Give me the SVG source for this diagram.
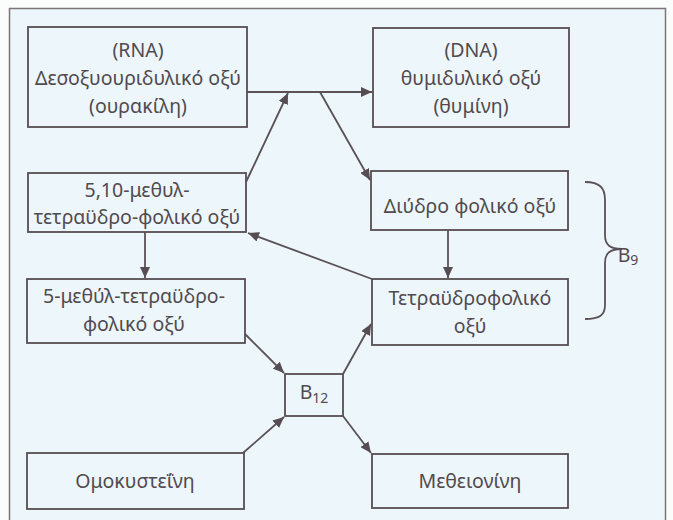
<svg xmlns="http://www.w3.org/2000/svg" width="673" height="520" viewBox="0 0 673 520">
<style>
.box{fill:none;stroke:#564d52;stroke-width:1.8}
.t{font-family:"Noto Sans","Open Sans",sans-serif;font-size:19.5px;fill:#514a4f;text-anchor:middle}
.c{fill:none;stroke:#5a5156;stroke-width:1.8}
</style>
<defs>
<marker id="ah" markerWidth="12" markerHeight="10" refX="11" refY="5" orient="auto" markerUnits="userSpaceOnUse">
<path d="M0,0 L11,5 L0,10 Z" fill="#564d52"/>
</marker>
</defs>
<rect x="0" y="0" width="673" height="520" fill="#fbfdfd"/>
<rect x="9.5" y="8.5" width="656" height="520" fill="#edf6fa" stroke="#7d7579" stroke-width="1.5"/>

<g id="rna"><rect class="box" x="28" y="27" width="219" height="100"/>
<text class="t" x="138" y="57">(RNA)</text><text class="t" x="138" y="85">Δεσοξυουριδυλικό οξύ</text><text class="t" x="138" y="113">(ουρακίλη)</text></g>
<g id="dna"><rect class="box" x="373" y="28" width="196" height="99"/>
<text class="t" x="471" y="57">(DNA)</text><text class="t" x="471" y="85">θυμιδυλικό οξύ</text><text class="t" x="471" y="113">(θυμίνη)</text></g>
<g id="methylene"><rect class="box" x="28" y="173" width="218" height="59"/>
<text class="t" x="137" y="197">5,10-μεθυλ-</text><text class="t" x="137" y="224">τετραϋδρο-φολικό οξύ</text></g>
<g id="dihydro"><rect class="box" x="371" y="171" width="197" height="59"/>
<text class="t" x="470" y="213">Διύδρο φολικό οξύ</text></g>
<g id="methyl"><rect class="box" x="27" y="279" width="218" height="64"/>
<text class="t" x="134" y="303">5-μεθύλ-τετραϋδρο-</text><text class="t" x="134" y="331">φολικό οξύ</text></g>
<g id="tetrahydro"><rect class="box" x="372" y="279" width="196" height="66"/>
<text class="t" x="470" y="305">Τετραϋδροφολικό</text><text class="t" x="470" y="333">οξύ</text></g>
<g id="b12"><rect class="box" x="285" y="374" width="58" height="42"/>
<text class="t" x="314" y="399" font-size="21">B<tspan font-size="14" dy="4">12</tspan></text></g>
<g id="homocysteine"><rect class="box" x="27" y="453" width="217" height="56"/>
<text class="t" x="135" y="488">Ομοκυστεΐνη</text></g>
<g id="methionine"><rect class="box" x="372" y="454" width="196" height="54"/>
<text class="t" x="470" y="488">Μεθειονίνη</text></g>
<g id="b9">
<path class="c" d="M585,182 C600,182 605,188 605,200 L605,235 C605,245 610,249 622,249 C610,249 605,253 605,263 L605,305 C605,315 600,319 585,319" stroke-width="1.6"/>
<text class="t" x="628" y="262" text-anchor="start" font-size="21">B<tspan font-size="14" dy="3">9</tspan></text></g>

<g id="connectors">
<path class="c" d="M247,92 L372,92" marker-end="url(#ah)"/>
<path class="c" d="M246,182 L288,93" marker-end="url(#ah)"/>
<path class="c" d="M320,92 L370,180" marker-end="url(#ah)"/>
<path class="c" d="M145,232 L145,278" marker-end="url(#ah)"/>
<path class="c" d="M372,279 L248,233" marker-end="url(#ah)"/>
<path class="c" d="M448,230 L448,278" marker-end="url(#ah)"/>
<path class="c" d="M245,334 L284,373" marker-end="url(#ah)"/>
<path class="c" d="M243,453 L284,417" marker-end="url(#ah)"/>
<path class="c" d="M343,374 L371,324" marker-end="url(#ah)"/>
<path class="c" d="M343,416 L371,453" marker-end="url(#ah)"/>
</g>
</svg>
